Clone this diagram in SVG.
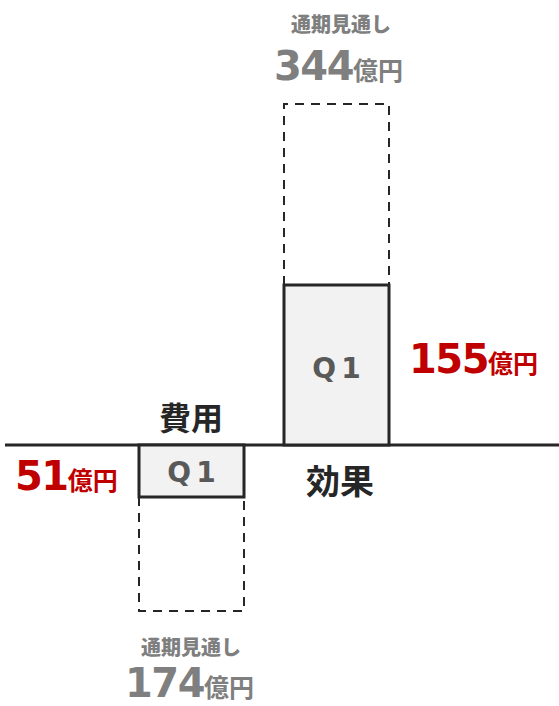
<svg xmlns="http://www.w3.org/2000/svg" width="559" height="706" viewBox="0 0 559 706">
<style>
text{font-family:"DejaVu Sans","Noto Sans CJK JP",sans-serif;font-weight:bold}
.gray{fill:#7f7f7f}
.red{fill:#c00000}
.dark{fill:#262626;font-family:"Noto Sans CJK JP",sans-serif}
.lbl{font-family:"Noto Sans CJK JP",sans-serif;font-size:20px;font-weight:900}
.num{font-size:40px;letter-spacing:-1.5px}
.unit{font-size:25px;letter-spacing:0;font-family:"Noto Sans CJK JP",sans-serif}
.q{fill:#595959;font-size:28px;letter-spacing:5px}
.box{fill:#f2f2f2;stroke:#262626;stroke-width:3}
.dash{fill:none;stroke:#262626;stroke-width:2;stroke-dasharray:9 7}
</style>
<g id="connectors">
<line x1="5" y1="445" x2="559" y2="445" stroke="#262626" stroke-width="3"/>
</g>
<g id="effect-forecast">
<path class="dash" d="M284 285 V104 H389 V285"/>
<text class="gray lbl" x="341" y="32" text-anchor="middle">通期見通し</text>
<text class="gray" x="274" y="80"><tspan class="num">344</tspan><tspan class="unit">億円</tspan></text>
</g>
<g id="effect-q1">
<rect class="box" x="284" y="285" width="105" height="160"/>
<text class="q" x="339" y="378" text-anchor="middle">Q1</text>
<text class="red" x="409" y="373"><tspan class="num">155</tspan><tspan class="unit">億円</tspan></text>
<text class="dark" x="340" y="494" text-anchor="middle" font-size="34">効果</text>
</g>
<g id="cost-q1">
<rect class="box" x="139" y="445" width="105" height="52"/>
<text class="q" x="194" y="482" text-anchor="middle">Q1</text>
<text class="red" x="15" y="490"><tspan class="num">51</tspan><tspan class="unit">億円</tspan></text>
<text class="dark" x="191" y="430" text-anchor="middle" font-size="32">費用</text>
</g>
<g id="cost-forecast">
<path class="dash" d="M139 497 V611 H244 V497"/>
<text class="gray lbl" x="191" y="655" text-anchor="middle">通期見通し</text>
<text class="gray" x="125" y="697"><tspan class="num">174</tspan><tspan class="unit">億円</tspan></text>
</g>
</svg>
